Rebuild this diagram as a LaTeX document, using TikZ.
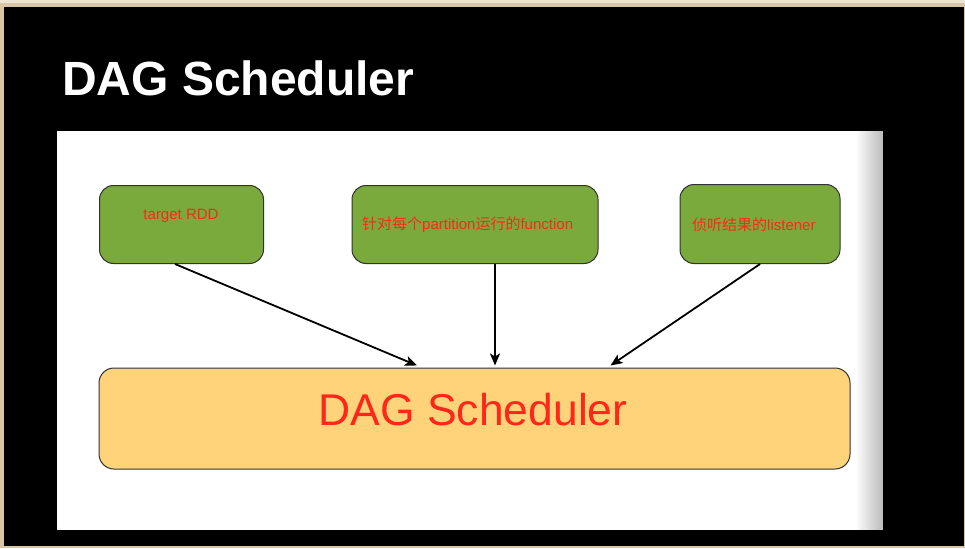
\documentclass[tikz,border=0pt]{standalone}
\usepackage{fontspec}
\setmainfont{Liberation Sans}
\newfontfamily\cjk{Noto Sans CJK SC}
\usetikzlibrary{arrows.meta,calc}
\definecolor{frameb}{RGB}{216,198,164}
\definecolor{framel}{RGB}{236,228,212}
\definecolor{boxgreen}{RGB}{122,170,60}
\definecolor{txtred}{RGB}{255,38,26}
\definecolor{dagfill}{RGB}{255,211,122}
\definecolor{edge}{RGB}{50,50,50}
\tikzset{
  greenbox/.style={draw=edge, line width=1pt, fill=boxgreen, rounded corners=14pt, inner sep=0pt},
  smalltxt/.style={text=txtred, font=\fontsize{15}{18}\selectfont, inner sep=0pt},
  conn/.style={line width=1.8pt, -{Stealth[length=12pt,width=10pt,inset=3pt]}},
}
\begin{document}
\begin{tikzpicture}[x=1pt,y=-1pt]
\useasboundingbox (0,0) rectangle (965,548);
% frame
\fill[frameb] (0,0) rectangle (965,548);
\fill[framel] (0,0) rectangle (965,3);
\fill[black] (4,7) rectangle (964,546);
% title
\node[anchor=base west, text=white, font=\bfseries\fontsize{48}{52}\selectfont, inner sep=0pt] (title) at (62,96) {DAG Scheduler};
% panel with right-side shadow
\fill[white] (57,131) rectangle (883,530);
\foreach \i in {0,...,27} {
  \pgfmathsetmacro{\pc}{\i*26/27}
  \fill[black!\pc] ({855+\i},131) rectangle ({856.2+\i},530);
}
% boxes
\node[greenbox, minimum width=164pt, minimum height=78pt] (b1) at (181.5,224.5) {};
\node[greenbox, minimum width=246pt, minimum height=78pt] (b2) at (475,224.5) {};
\node[greenbox, minimum width=160pt, minimum height=79pt] (b3) at (760,224) {};
\node[smalltxt] (t1) at (181,216) {target RDD};
\node[smalltxt, anchor=west] (t2) at (362,225) {{\cjk 针对每个}partition{\cjk 运行的}function};
\node[smalltxt, anchor=west] (t3) at (692,225) {{\cjk 侦听结果的}listener};
\node[draw=edge, line width=1pt, fill=dagfill, rounded corners=15pt, minimum width=751pt, minimum height=101pt, inner sep=0pt] (dag) at (474.5,418.5) {};
\node[anchor=base, text=txtred, font=\fontsize{44.5}{50}\selectfont, inner sep=0pt] (dagt) at (473,425) {DAG Scheduler};
% connectors
\draw[conn] ($(b1.south)+(-6.5,0)$) -- ($(dag.north)+(-57.5,-2)$);
\draw[conn] ($(b2.south)+(20,0)$) -- ($(dag.north)+(20.5,-2)$);
\draw[conn] (b3.south) -- ($(dag.north)+(136,-2)$);
\end{tikzpicture}
\end{document}
